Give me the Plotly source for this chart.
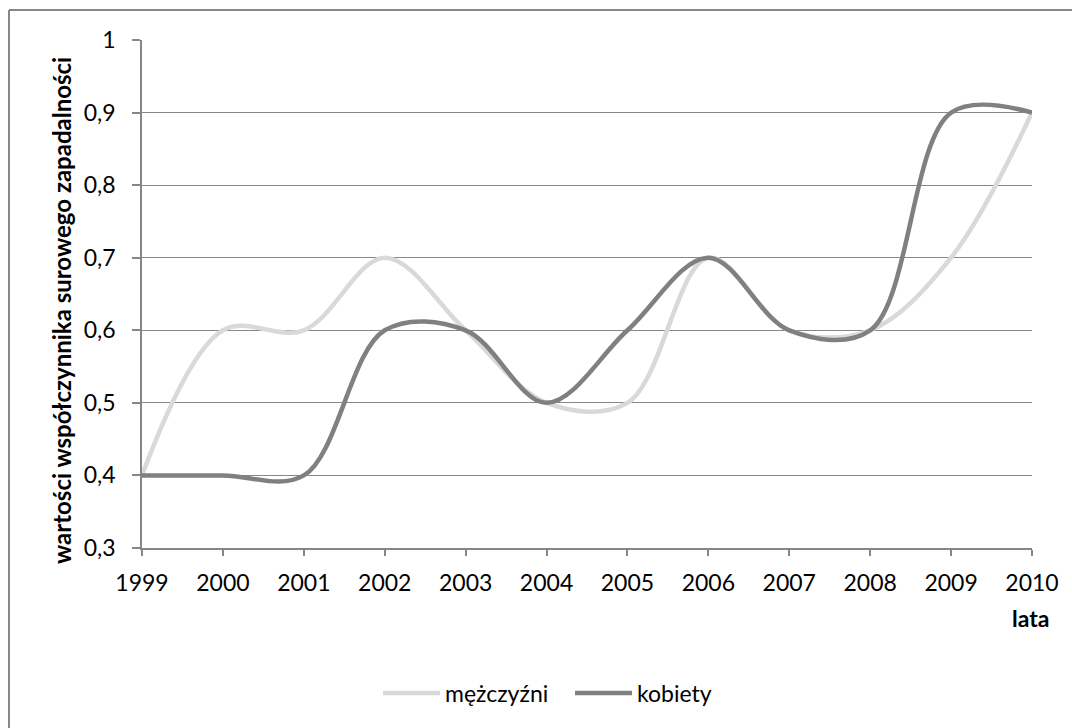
import plotly.graph_objects as go

lata = [1999, 2000, 2001, 2002, 2003, 2004, 2005, 2006, 2007, 2008, 2009, 2010]
mezczyzni = [0.4, 0.6, 0.6, 0.7, 0.6, 0.5, 0.5, 0.7, 0.6, 0.6, 0.7, 0.9]
kobiety = [0.4, 0.4, 0.4, 0.6, 0.6, 0.5, 0.6, 0.7, 0.6, 0.6, 0.9, 0.9]
y_ticks = [0.3, 0.4, 0.5, 0.6, 0.7, 0.8, 0.9, 1.0]

FONT = "Lato"
FS = 23
L, R, T, B = 142, 40, 40, 180
W, H = 1072, 728
pw, ph = W - L - R, H - T - B

def px_x(x):
    return (x - L) / pw

def px_y(y):
    return (H - B - y) / ph

fig = go.Figure()
fig.add_trace(go.Scatter(
    x=lata, y=mezczyzni, name="mężczyźni", mode="lines",
    line=dict(color="#d9d9d9", width=4.5, shape="spline", smoothing=1.0),
))
fig.add_trace(go.Scatter(
    x=lata, y=kobiety, name="kobiety", mode="lines",
    line=dict(color="#808080", width=4.5, shape="spline", smoothing=1.0),
))

frame = dict(color="#878787", width=2)

fig.update_layout(
    width=W, height=H,
    margin=dict(l=L, r=R, t=T, b=B),
    paper_bgcolor="white", plot_bgcolor="white",
    separators=", ",
    font=dict(family=FONT, size=FS, color="#000000"),
    showlegend=True,
    legend=dict(
        orientation="h", x=px_x(378), xanchor="left", y=px_y(693), yanchor="middle",
        font=dict(family=FONT, size=FS), itemwidth=57,
        entrywidth=120, entrywidthmode="pixels",
        bgcolor="rgba(0,0,0,0)",
    ),
    xaxis=dict(
        range=[1999, 2010], tickvals=lata, ticktext=[str(v) for v in lata],
        showgrid=False, zeroline=False,
        showline=True, linecolor="#868686", linewidth=1.5,
        ticks="outside", ticklen=6, tickcolor="#868686", tickwidth=1.5,
        ticklabelstandoff=8,
        tickfont=dict(family=FONT, size=FS),
    ),
    yaxis=dict(
        range=[0.3, 1.0], tickvals=y_ticks,
        showgrid=True, gridcolor="#878787", gridwidth=1,
        zeroline=False,
        showline=True, linecolor="#868686", linewidth=1.5,
        ticks="outside", ticklen=8, tickcolor="#868686", tickwidth=1.5,
        ticklabelstandoff=12,
        tickfont=dict(family=FONT, size=FS),
    ),
    shapes=[
        dict(type="line", xref="paper", yref="paper",
             x0=px_x(9), y0=px_y(10), x1=px_x(1072), y1=px_y(10), line=frame),
        dict(type="line", xref="paper", yref="paper",
             x0=px_x(9), y0=px_y(10), x1=px_x(9), y1=px_y(728), line=frame),
    ],
    annotations=[
        dict(text="<b>wartości współczynnika surowego zapadalności</b>",
             xref="paper", yref="paper", x=px_x(62), y=px_y(311),
             xanchor="center", yanchor="middle", textangle=-90,
             showarrow=False, font=dict(family=FONT, size=24)),
        dict(text="<b>lata</b>", xref="paper", yref="paper",
             x=px_x(1030), y=px_y(618), xanchor="center", yanchor="middle",
             showarrow=False, font=dict(family=FONT, size=FS)),
    ],
)

# keep the page exactly the size of the figure, without scrollbars
page_css = (
    "document.documentElement.style.overflow='hidden';"
    "document.body.style.margin='0';"
    "document.body.style.overflow='hidden';"
)
fig.write_html("out.html", post_script=page_css)
